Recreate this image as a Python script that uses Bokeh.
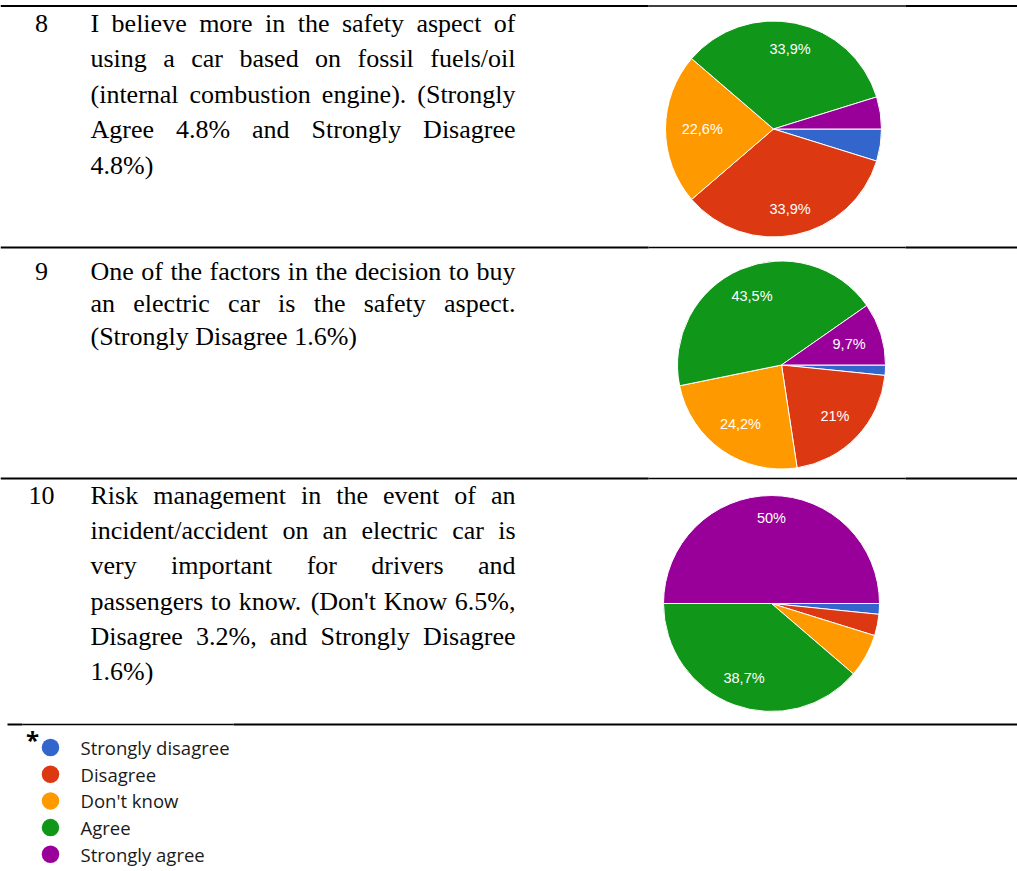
import math

from bokeh.core.properties import value
from bokeh.embed import file_html
from bokeh.models import ColumnDataSource, Range1d
from bokeh.plotting import figure
from bokeh.resources import INLINE

W, H = 1017, 871

# ---------------------------------------------------------------- data
categories = ["Strongly disagree", "Disagree", "Don't know", "Agree", "Strongly agree"]
category_colors = ["#3366cc", "#dc3912", "#ff9900", "#109618", "#990099"]

item_numbers = ["8", "9", "10"]

share_q8 = [4.8, 33.9, 22.6, 33.9, 4.8]
share_q9 = [1.6, 21.0, 24.2, 43.5, 9.7]
share_q10 = [1.6, 3.2, 6.5, 38.7, 50.0]

statement_q8 = [
    "I believe more in the safety aspect of",
    "using a car based on fossil fuels/oil",
    "(internal combustion engine). (Strongly",
    "Agree 4.8% and Strongly Disagree",
    "4.8%)",
]
statement_q9 = [
    "One of the factors in the decision to buy",
    "an electric car is the safety aspect.",
    "(Strongly Disagree 1.6%)",
]
statement_q10 = [
    "Risk management in the event of an",
    "incident/accident on an electric car is",
    "very important for drivers and",
    "passengers to know. (Don't Know 6.5%,",
    "Disagree 3.2%, and Strongly Disagree",
    "1.6%)",
]

shares = [share_q8, share_q9, share_q10]
statements = [statement_q8, statement_q9, statement_q10]

# slices smaller than this carry no percentage label
LABEL_MIN_SHARE = 9.0

# ---------------------------------------------------------------- layout (page pixels, y downwards)
rule_y = [5.5, 247.0, 478.0, 724.0]
row_baseline = [22.5, 270.5, 495.0]
row_line_gap = [35.5, 32.5, 35.2]
number_x = 41.0
text_x0, text_x1 = 90.0, 515.0
body_size = 26.0

pie_cx = [773.0, 781.0, 771.0]
pie_cy = [128.5, 364.5, 603.0]
pie_r = [108.0, 104.0, 108.0]
label_size = 14.5
label_reach = 0.85      # outer edge of a slice label, as a fraction of the radius
label_half_h = 6.0

legend_x, legend_text_x = 50.0, 80.0
legend_y0, legend_dy = 747.0, 26.7


def Y(y):
    """Convert a top-down page coordinate to the plot's upward y."""
    return H - y


# advance widths (1/1000 em) of the serif body face, used for justification
SERIF_W = {
    " ": 250, "%": 833, "'": 180, "(": 333, ")": 333, ",": 250, ".": 250, "/": 278,
    "0": 500, "1": 500, "2": 500, "3": 500, "4": 500, "5": 500, "6": 500, "7": 500,
    "8": 500, "9": 500,
    "A": 722, "D": 722, "I": 333, "K": 722, "O": 722, "R": 667, "S": 556,
    "a": 444, "b": 500, "c": 444, "d": 500, "e": 444, "f": 333, "g": 500, "h": 500,
    "i": 278, "j": 278, "k": 500, "l": 278, "m": 778, "n": 500, "o": 500, "p": 500,
    "q": 500, "r": 333, "s": 389, "t": 278, "u": 500, "v": 500, "w": 722, "x": 500,
    "y": 500, "z": 444,
}
# advance widths of the sans label face (digits, comma, percent)
SANS_W = {",": 278, "%": 889}


def text_width(s, size):
    return sum(SERIF_W.get(ch, 500) for ch in s) / 1000.0 * size


def label_width(s, size):
    return sum(SANS_W.get(ch, 556) for ch in s) / 1000.0 * size


p = figure(
    width=W, height=H,
    x_range=Range1d(0, W), y_range=Range1d(0, H),
    x_axis_type=None, y_axis_type=None,
    output_backend="svg", toolbar_location=None,
    min_border=0, outline_line_color=None,
)
p.grid.visible = False
p.background_fill_color = "white"
p.border_fill_color = "white"

# ---------------------------------------------------------------- table rules
seg_x0, seg_x1, seg_y, seg_w = [], [], [], []
for yy in rule_y[:3]:
    for a, b, w in [(0, 648, 2.2), (648, 905, 1.6), (905, W, 2.2)]:
        seg_x0.append(a); seg_x1.append(b); seg_y.append(Y(yy)); seg_w.append(w)
for a, b, w in [(7, 22, 2.2), (22, 233, 1.4), (233, W, 2.2)]:
    seg_x0.append(a); seg_x1.append(b); seg_y.append(Y(rule_y[3])); seg_w.append(w)
p.segment(x0="x0", y0="y", x1="x1", y1="y", line_width="w", line_color="black",
          source=ColumnDataSource(dict(x0=seg_x0, x1=seg_x1, y=seg_y, w=seg_w)))

# ---------------------------------------------------------------- row numbers and justified statements
num_src = dict(x=[], y=[], t=[])
left_src = dict(x=[], y=[], t=[])
right_src = dict(x=[], y=[], t=[])
for i, (num, lines) in enumerate(zip(item_numbers, statements)):
    base = row_baseline[i]
    num_src["x"].append(number_x); num_src["y"].append(Y(base)); num_src["t"].append(num)
    for j, line in enumerate(lines):
        yb = Y(base + j * row_line_gap[i])
        words = line.split(" ")
        justify = j < len(lines) - 1 and len(words) > 1
        widths = [text_width(w, body_size) for w in words]
        if justify:
            gap = (text_x1 - text_x0 - sum(widths)) / (len(words) - 1)
        else:
            gap = text_width(" ", body_size)
        x = text_x0
        for k, (w, ww) in enumerate(zip(words, widths)):
            if justify and k == len(words) - 1:
                right_src["x"].append(text_x1); right_src["y"].append(yb); right_src["t"].append(w)
            else:
                left_src["x"].append(x); left_src["y"].append(yb); left_src["t"].append(w)
            x += ww + gap

body_style = dict(text_font=value("Liberation Serif"), text_font_size=f"{body_size}px",
                  text_color="black", text_baseline="middle")
p.text(x="x", y="y", text="t", text_align="center", source=ColumnDataSource(num_src), **body_style)
p.text(x="x", y="y", text="t", text_align="left", source=ColumnDataSource(left_src), **body_style)
p.text(x="x", y="y", text="t", text_align="right", source=ColumnDataSource(right_src), **body_style)

# ---------------------------------------------------------------- pies (clockwise from 3 o'clock)
for i, vals in enumerate(shares):
    total = float(sum(vals))
    cx, cy, r = pie_cx[i], Y(pie_cy[i]), pie_r[i]
    starts, ends, lab_x, lab_y, lab_t = [], [], [], [], []
    cum = 0.0
    for v in vals:
        f0, f1 = cum / total, (cum + v) / total
        cum += v
        starts.append(-f1 * 2 * math.pi)
        ends.append(-f0 * 2 * math.pi)
        if v >= LABEL_MIN_SHARE:
            txt = f"{v:.1f}"
            if txt.endswith(".0"):
                txt = txt[:-2]
            txt = txt.replace(".", ",") + "%"
            mid = -(f0 + f1) / 2 * 2 * math.pi
            c, s = math.cos(mid), math.sin(mid)
            # keep the label's outer corner at a fixed reach inside the rim
            half_w = label_width(txt, label_size) / 2
            d = label_reach * r - (half_w * abs(c) + label_half_h * abs(s))
            lab_x.append(cx + d * c)
            lab_y.append(cy + d * s)
            lab_t.append(txt)
    src = ColumnDataSource(dict(s=starts, e=ends, c=category_colors, cat=categories))
    p.wedge(x=cx, y=cy, radius=r, start_angle="s", end_angle="e", direction="anticlock",
            fill_color="c", line_color="white", line_width=1, source=src)
    p.text(x="x", y="y", text="t", source=ColumnDataSource(dict(x=lab_x, y=lab_y, t=lab_t)),
           text_font=value("Liberation Sans"), text_font_size=f"{label_size}px", text_color="white",
           text_align="center", text_baseline="middle")

# ---------------------------------------------------------------- legend
leg_y = [Y(legend_y0 + k * legend_dy) for k in range(len(categories))]
p.scatter(x=[legend_x] * len(categories), y=leg_y, size=17.5, marker="circle",
          fill_color=category_colors, line_color=None)
p.text(x=[legend_text_x] * len(categories), y=leg_y, text=categories,
       text_font=value("Open Sans"), text_font_size="18.5px", text_color="#1a1a1a",
       text_align="left", text_baseline="middle")
p.text(x=[32], y=[Y(739)], text=["*"], text_font=value("Open Sans"), text_font_size="24px",
       text_font_style="bold", text_color="black", text_align="center", text_baseline="middle")

open("out.html", "w").write(file_html(p, INLINE))
